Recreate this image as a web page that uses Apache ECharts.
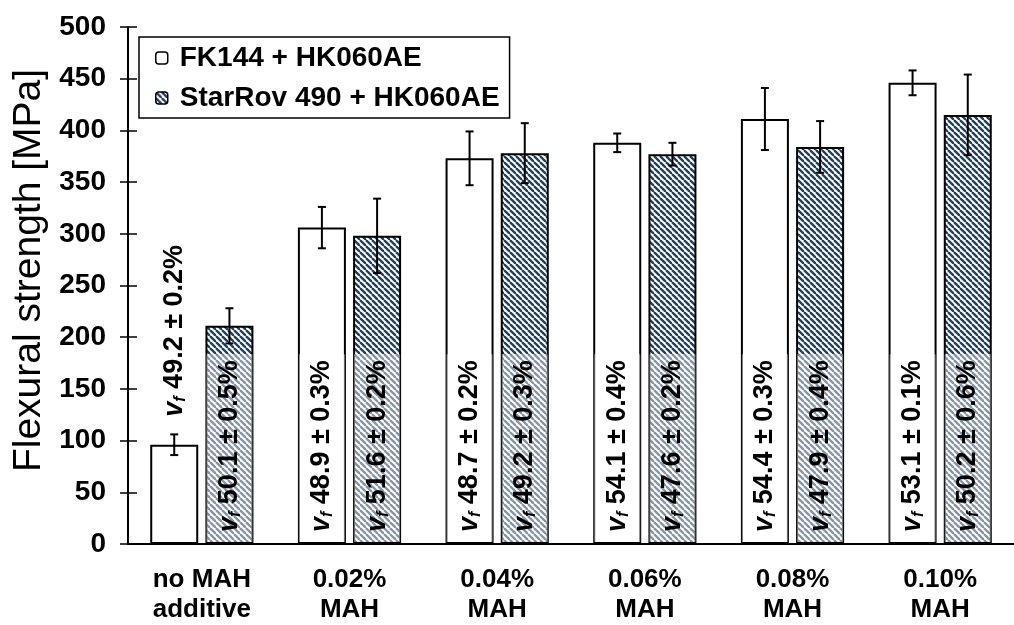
<!DOCTYPE html>
<html>
<head>
<meta charset="utf-8">
<script src="https://cdn.jsdelivr.net/npm/echarts@6/dist/echarts.min.js"></script>
<style>
html,body{margin:0;padding:0;background:#fff;}
#main{width:1014px;height:625px;}
</style>
</head>
<body>
<div id="main"></div>
<script>
// ---------- data ----------
const categories = ['no MAH\nadditive', '0.02%\nMAH', '0.04%\nMAH', '0.06%\nMAH', '0.08%\nMAH', '0.10%\nMAH'];
const seriesNames = ['FK144 + HK060AE', 'StarRov 490 + HK060AE'];
const fkValues = [96, 306, 373, 388, 411, 446];
const fkErrors = [10, 20, 26, 9, 30, 12];
const srValues = [211, 298, 378, 377, 384, 415];
const srErrors = [17, 36, 29, 11, 25, 39];
const fkVf = ['49.2 ± 0.2%', '48.9 ± 0.3%', '48.7 ± 0.2%', '54.1 ± 0.4%', '54.4 ± 0.3%', '53.1 ± 0.1%'];
const srVf = ['50.1 ± 0.5%', '51.6 ± 0.2%', '49.2 ± 0.3%', '47.6 ± 0.2%', '47.9 ± 0.4%', '50.2 ± 0.6%'];
const yMin = 0, yMax = 500, yStep = 50;

// ---------- styles ----------
const FONT = '"Liberation Sans", Arial, sans-serif';
const BAR_W = 48;
const BAR_GAP = 0.15;
const OFFSET = (BAR_W + BAR_W * BAR_GAP) / 2;

function hatch() {
  const c = document.createElement('canvas');
  const s = 6;
  c.width = s; c.height = s;
  const g = c.getContext('2d');
  g.fillStyle = '#ffffff';
  g.fillRect(0, 0, s, s);
  g.strokeStyle = '#1f3f5e';
  g.lineWidth = 2.3;
  for (const o of [-s, 0, s]) {
    g.beginPath();
    g.moveTo(o, 0);
    g.lineTo(o + s, s);
    g.stroke();
  }
  return c;
}
const hatchFill = { image: hatch(), repeat: 'repeat' };

const rich = {
  v: { fontFamily: FONT, fontSize: 27, fontWeight: 'bold', fontStyle: 'italic', color: '#000', lineHeight: 28 },
  f: { fontFamily: FONT, fontSize: 16, fontWeight: 'bold', fontStyle: 'italic', color: '#000', lineHeight: 16, verticalAlign: 'bottom' },
  t: { fontFamily: FONT, fontSize: 27, fontWeight: 'bold', color: '#000', lineHeight: 28 }
};

function labelFor(text, isFirstWhite) {
  const base = {
    show: true,
    rotate: 90,
    align: 'left',
    verticalAlign: 'middle',
    rich: rich,
    formatter: '{v|v}{f|f}{t| ' + text + '}'
  };
  if (isFirstWhite) {
    return Object.assign(base, { position: 'top', distance: 28 });
  }
  return Object.assign(base, {
    position: 'insideBottom',
    distance: 2,
    backgroundColor: 'rgba(255,255,255,0.45)',
    padding: [9, 6, 9, 10]
  });
}

const fkData = fkValues.map((v, i) => ({ value: v, label: labelFor(fkVf[i], i === 0) }));
const srData = srValues.map((v, i) => ({ value: v, label: labelFor(srVf[i], false) }));

function errData(vals, errs) {
  return vals.map((v, i) => [i, v, errs[i]]);
}

function errRender(offset) {
  return function (params, api) {
    const i = api.value(0), v = api.value(1), e = api.value(2);
    const top = api.coord([i, v + e]);
    const bot = api.coord([i, v - e]);
    const x = top[0] + offset;
    const cap = 4;
    const st = { stroke: '#000', lineWidth: 2 };
    return {
      type: 'group',
      children: [
        { type: 'line', shape: { x1: x, y1: top[1], x2: x, y2: bot[1] }, style: st },
        { type: 'line', shape: { x1: x - cap, y1: top[1], x2: x + cap, y2: top[1] }, style: st },
        { type: 'line', shape: { x1: x - cap, y1: bot[1], x2: x + cap, y2: bot[1] }, style: st }
      ]
    };
  };
}

const chart = echarts.init(document.getElementById('main'), null, { renderer: 'canvas' });
chart.setOption({
  backgroundColor: '#ffffff',
  animation: false,
  grid: { left: 128, top: 27, width: 894, height: 520 },
  legend: {
    orient: 'vertical',
    left: 139,
    top: 37,
    padding: [6, 10, 5, 16],
    borderColor: '#000',
    borderWidth: 1.5,
    itemWidth: 12,
    itemHeight: 12,
    itemGap: 10,
    data: seriesNames,
    textStyle: { fontFamily: FONT, fontSize: 28, fontWeight: 'bold', color: '#000', lineHeight: 30, padding: [0, 0, 0, 7] },
    itemStyle: { borderColor: '#000', borderWidth: 1.5 }
  },
  xAxis: {
    type: 'category',
    data: categories,
    axisLine: { lineStyle: { color: '#000', width: 2 } },
    axisTick: { show: false },
    axisLabel: { fontFamily: FONT, fontSize: 26, fontWeight: 'bold', color: '#000', lineHeight: 30, margin: 21, interval: 0 }
  },
  yAxis: [{
    type: 'value',
    min: yMin, max: yMax, interval: yStep,
    name: 'Flexural strength [MPa]',
    nameLocation: 'middle',
    nameGap: 72,
    nameTextStyle: { fontFamily: FONT, fontSize: 39, color: '#000', padding: [0, 0, 0, 30] },
    axisLine: { show: true, lineStyle: { color: '#000', width: 2 } },
    axisTick: { show: true, length: 8, lineStyle: { color: '#000', width: 1.5 } },
    axisLabel: { fontFamily: FONT, fontSize: 28, fontWeight: 'bold', color: '#000', margin: 22 },
    splitLine: { show: false }
  }, {
    type: 'value',
    position: 'left',
    min: yMin, max: yMax, interval: yStep,
    axisLine: { show: false },
    axisTick: { show: true, inside: true, length: 9, lineStyle: { color: '#000', width: 1.5 } },
    axisLabel: { show: false },
    splitLine: { show: false }
  }],
  series: [{
    name: seriesNames[0],
    type: 'bar',
    data: fkData,
    barWidth: BAR_W,
    barGap: (BAR_GAP * 100) + '%',
    itemStyle: { color: '#ffffff', borderColor: '#000', borderWidth: 2 }
  }, {
    name: seriesNames[1],
    type: 'bar',
    data: srData,
    barWidth: BAR_W,
    barGap: (BAR_GAP * 100) + '%',
    itemStyle: { color: hatchFill, borderColor: '#000', borderWidth: 2 }
  }, {
    type: 'custom',
    data: errData(fkValues, fkErrors),
    renderItem: errRender(-OFFSET),
    z: 10,
    silent: true
  }, {
    type: 'custom',
    data: errData(srValues, srErrors),
    renderItem: errRender(OFFSET),
    z: 10,
    silent: true
  }]
});
</script>
</body>
</html>
